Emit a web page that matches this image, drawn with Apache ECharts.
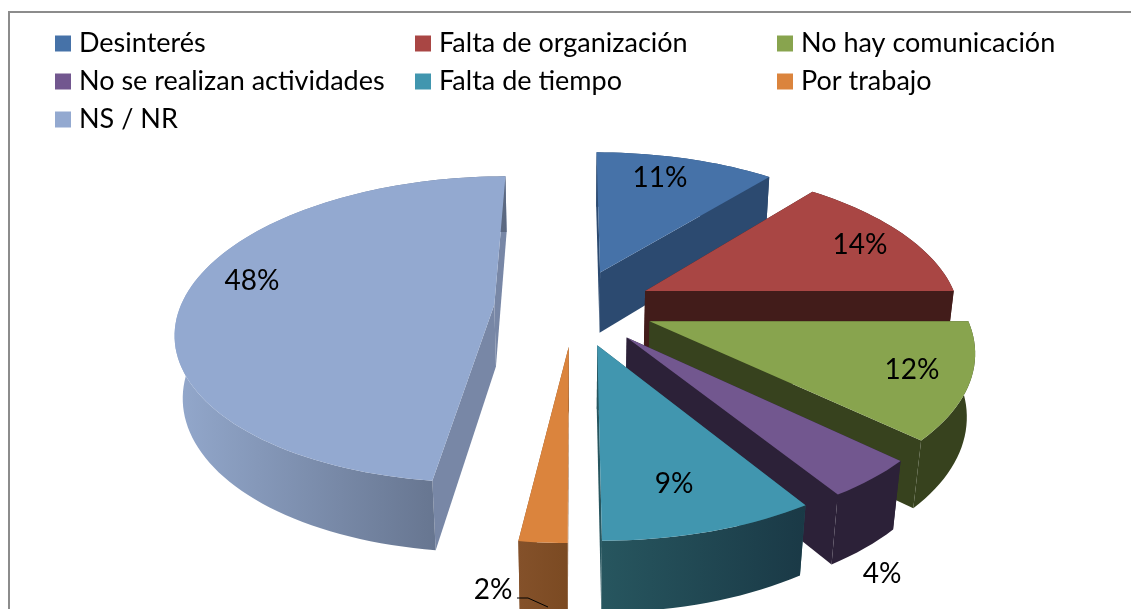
<!DOCTYPE html>
<html>
<head>
<meta charset="utf-8">
<style>
  html, body { margin: 0; padding: 0; background: #fff; }
  #myChart { width: 1131px; height: 609px; }
</style>
<script src="https://cdn.jsdelivr.net/npm/echarts@6/dist/echarts.min.js"></script>
</head>
<body>
<div id="myChart"></div>
<script>
// datos
const categories = ['Desinterés', 'Falta de organización', 'No hay comunicación', 'No se realizan actividades', 'Falta de tiempo', 'Por trabajo', 'NS / NR'];
const percents = [11, 14, 12, 4, 9, 2, 48];

// colores: cara superior, pared izquierda y derecha del borde, pared radial
const topColors = ['#4672A8', '#A94644', '#88A44E', '#72578F', '#4196AF', '#DB843D', '#93A9D0'];
const wallLeft = ['#2C4A70', '#421C1A', '#37421E', '#2C2138', '#27565F', '#84512A', '#93A8CC'];
const wallRight = ['#2C4A70', '#421C1A', '#37421E', '#2C2138', '#1A3946', '#7B4A22', '#5B6880'];
const sideColors = ['#2C4A70', '#421C1A', '#37421E', '#2C2138', '#27565F', '#84512A', '#7887A6'];

// posicion de las etiquetas en pixeles
const labelPos = [[660, 178], [860, 245], [912, 370], [882, 574], [674, 484], [493, 590], [252, 281]];

// camara del pastel 3D
const CX = 574, CY = 307, RADIUS = 314, EXPLODE = 80, HEIGHT = 72;
const TILT = 28.5 * Math.PI / 180, CAM = 1700;

function project(x, y, z) {
  const up = y * Math.sin(TILT) + z * Math.cos(TILT);
  const depth = y * Math.cos(TILT) - z * Math.sin(TILT);
  const s = CAM / (CAM + depth);
  return [CX + x * s, CY - up * s];
}

const total = percents.reduce((a, b) => a + b, 0);

function sliceItem(index, startPct) {
  return function (params, api) {
    const val = api.value(0);
    const a0 = startPct / total * Math.PI * 2;
    const a1 = (startPct + val) / total * Math.PI * 2;
    const mid = (a0 + a1) / 2;
    const ox = EXPLODE * Math.sin(mid), oy = EXPLODE * Math.cos(mid);
    const topArc = [], botArc = [];
    const steps = Math.max(6, Math.round(val * 2));
    for (let k = 0; k <= steps; k++) {
      const a = a0 + (a1 - a0) * k / steps;
      const x = ox + RADIUS * Math.sin(a), y = oy + RADIUS * Math.cos(a);
      topArc.push(project(x, y, 0));
      botArc.push(project(x, y, -HEIGHT));
    }
    const apexTop = project(ox, oy, 0), apexBot = project(ox, oy, -HEIGHT);
    const side = { fill: sideColors[index] };
    const children = [
      // paredes radiales
      { type: 'polygon', shape: { points: [apexTop, topArc[0], botArc[0], apexBot] }, style: side },
      { type: 'polygon', shape: { points: [apexTop, topArc[steps], botArc[steps], apexBot] }, style: side },
      // pared exterior
      {
        type: 'polygon',
        shape: { points: topArc.concat(botArc.slice().reverse()) },
        style: {
          fill: {
            type: 'linear', x: 0, y: 0, x2: 1, y2: 0,
            colorStops: [{ offset: 0, color: wallLeft[index] }, { offset: 1, color: wallRight[index] }]
          }
        }
      },
      // cara superior
      { type: 'polygon', shape: { points: [apexTop].concat(topArc) }, style: { fill: topColors[index] } },
      {
        type: 'text',
        x: labelPos[index][0], y: labelPos[index][1],
        style: { text: val + '%', fill: '#000', font: '28px Lato, "Open Sans", sans-serif', align: 'center', verticalAlign: 'middle' }
      }
    ];
    return { type: 'group', children: children };
  };
}

let acc = 0;
const series = categories.map((name, i) => {
  const s = {
    name: name,
    type: 'custom',
    coordinateSystem: 'none',
    silent: true,
    animation: false,
    itemStyle: { color: topColors[i] },
    data: [[percents[i]]],
    renderItem: sliceItem(i, acc)
  };
  acc += percents[i];
  return s;
});

function legendCol(left, names) {
  return {
    orient: 'vertical', left: left, top: 25, itemGap: 11, itemWidth: 16, itemHeight: 16,
    icon: 'rect', selectedMode: false, data: names,
    textStyle: { color: '#000', fontFamily: 'Lato, "Open Sans", sans-serif', fontSize: 27, padding: [0, 0, 0, 3] }
  };
}

const myChart = echarts.init(document.getElementById('myChart'));
myChart.setOption({
  animation: false,
  backgroundColor: '#fff',
  legend: [
    legendCol(50, [categories[0], categories[3], categories[6]]),
    legendCol(410, [categories[1], categories[4]]),
    legendCol(772, [categories[2], categories[5]])
  ],
  graphic: [
    { type: 'polyline', silent: true, shape: { points: [[9, 609], [9, 12], [1131, 12]] }, style: { fill: null, stroke: '#8C8C8C', lineWidth: 2 } },
    { type: 'polyline', silent: true, z: 100, shape: { points: [[517, 598], [528, 598], [548, 607]] }, style: { fill: null, stroke: '#000', lineWidth: 1 } }
  ],
  series: series
});
</script>
</body>
</html>
